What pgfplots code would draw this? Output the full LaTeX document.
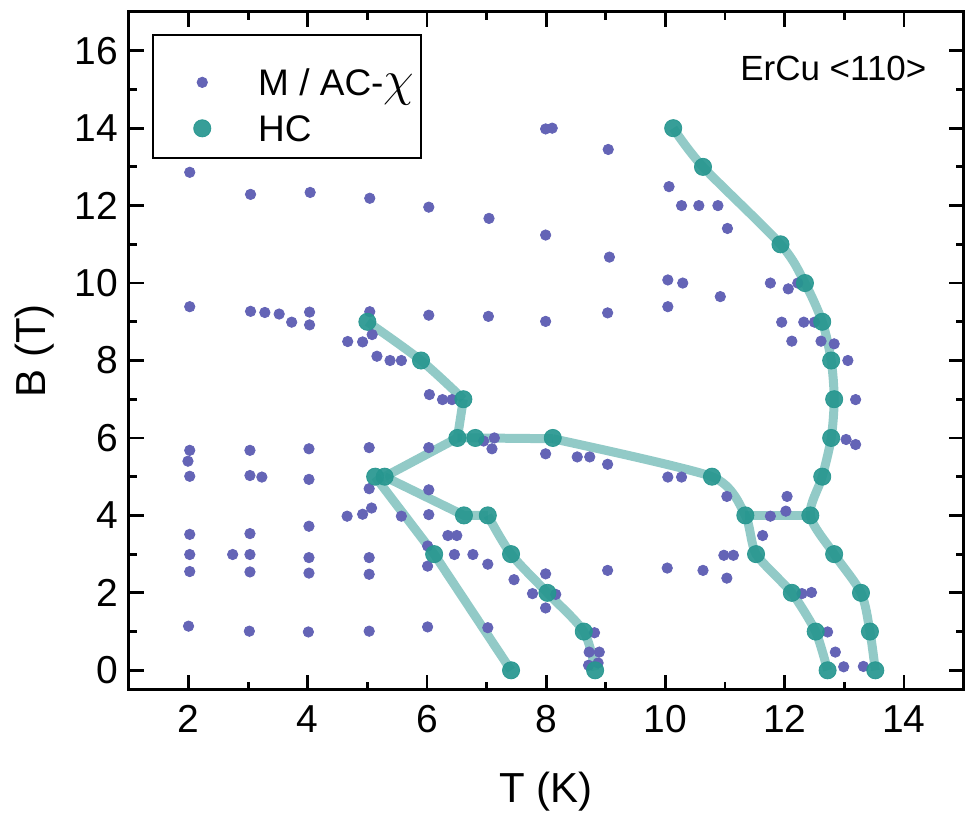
\documentclass[border=0pt]{standalone}
\usepackage{fontspec}
\setmainfont{Liberation Sans}
\usepackage{pgfplots}
\pgfplotsset{compat=1.18}
\definecolor{dotc}{RGB}{100,100,182}
\definecolor{hcc}{RGB}{38,150,143}
\begin{document}
\begin{tikzpicture}
\begin{axis}[
 scale only axis, width=417.5pt, height=339pt,
 xmin=1, xmax=15, ymin=-0.5, ymax=17,
 xtick={2,4,...,14}, ytick={0,2,...,16},
 minor x tick num=1, minor y tick num=1,
 tick align=inside,
 major tick length=7.5pt, minor tick length=4pt,
 every tick/.style={black, line width=1.4pt},
 axis line style={line width=1.5pt},
 /pgf/number format/assume math mode=true,
 ticklabel style={font=\fontsize{19.5}{20}\selectfont},
 xticklabel style={yshift=-4.5pt},
 yticklabel style={xshift=-2pt},
 xlabel={T (K)}, ylabel={B (T)},
 label style={font=\fontsize{21}{22}\selectfont},
 xlabel style={at={(axis description cs:0.5,0)}, anchor=center, yshift=-51pt},
 ylabel style={at={(axis description cs:-0.1126,0.5)}, anchor=center},
 legend style={draw=none, fill=none, at={(axis description cs:0.0287,0.9171)}, anchor=north west,
   inner xsep=0pt, inner ysep=0pt, row sep=5.5pt, column sep=4.5pt,
   font=\fontsize{18.5}{20}\selectfont,
   nodes={inner sep=0pt, text height=13.5pt, text depth=4pt}},
 legend cell align=left,
 legend image code/.code={\path[draw=none, fill=none] (0pt,-8pt) rectangle (48pt,8pt); \draw[#1] plot[only marks] coordinates {(24.5pt,1.85pt)};},
]
\addplot[only marks, mark=*, mark size=2.6pt, color=dotc] coordinates {
(2.02,12.86)(2.02,9.39)(2.02,5.68)(1.99,5.40)(2.02,5.01)(2.02,3.51)(2.02,2.99)(2.02,2.55)(2.0,1.14)
(2.74,2.99)
(3.04,12.29)(3.04,9.27)(3.03,5.68)(3.03,5.03)(3.03,3.53)(3.03,2.99)(3.03,2.54)(3.02,1.01)
(3.23,4.99)(3.28,9.24)(3.52,9.20)(3.73,8.99)
(4.04,12.34)(4.03,9.25)(4.03,8.92)(4.02,5.72)(4.02,4.93)(4.02,3.72)(4.02,2.91)(4.02,2.51)(4.01,0.99)
(4.67,8.49)(4.92,8.48)(4.66,3.98)(4.92,4.03)
(5.04,12.19)(5.04,9.26)(5.08,8.67)(5.16,8.11)(5.38,8.0)(5.57,8.0)(5.03,5.75)(5.03,4.69)(5.07,4.19)(5.57,3.98)(5.03,2.91)(5.03,2.48)(5.03,1.01)
(6.03,11.96)(6.03,9.17)(6.04,7.12)(6.26,6.99)(6.42,6.99)(6.03,5.75)(6.03,4.66)(6.03,4.02)(6.01,3.21)(6.01,2.69)(6.01,1.12)(6.35,3.48)(6.5,3.48)(6.46,2.99)(6.77,2.99)
(7.04,11.67)(7.03,9.14)(6.95,5.92)(7.13,6.0)(7.09,5.72)(7.02,2.74)(7.46,2.34)(7.77,1.98)(7.02,1.10)
(7.99,13.98)(8.1,14.0)(7.99,11.24)(7.99,9.01)(7.99,5.59)(8.52,5.51)(8.73,5.51)(9.03,5.32)(7.99,2.49)(8.16,1.96)(7.99,1.61)(8.81,0.97)(8.72,0.47)(8.89,0.47)(8.71,0.13)(8.87,0.19)
(9.04,13.45)(9.06,10.67)(9.03,9.23)(9.03,2.58)
(10.06,12.49)(10.27,12.0)(10.56,12.0)(10.88,12.0)(11.04,11.41)(10.04,10.08)(10.29,10.0)(10.92,9.65)(10.04,9.39)(10.04,4.99)(10.27,4.99)(11.03,4.49)(10.63,2.58)(10.03,2.64)(10.98,2.97)(11.14,2.97)(11.03,2.38)
(11.76,10.0)(12.06,9.85)(12.22,10.0)(11.95,8.99)(12.32,8.99)(12.5,8.99)(12.12,8.5)(12.61,8.5)(12.83,8.43)(13.06,8.0)(13.19,6.99)(13.03,5.96)(13.19,5.83)(11.76,3.98)(12.02,4.11)(12.04,4.49)(11.63,3.48)(12.29,1.98)(12.45,2.01)(12.72,0.99)(12.85,0.47)(12.99,0.09)(13.32,0.10)
};
\addlegendentry{M / AC-{\fontsize{25}{25}\selectfont$\chi$}}
% HC lines
\addplot[forget plot, no marks, smooth, tension=0.5, line width=4.5pt, color=hcc, opacity=0.5] coordinates {(5.0,9.0)(5.9,8.0)(6.61,7.0)};
\addplot[forget plot, no marks, line width=4.5pt, color=hcc, opacity=0.5] coordinates {(6.61,7.0)(6.51,6.0)(5.29,5.0)};
\addplot[forget plot, no marks, line width=4.5pt, color=hcc, opacity=0.5] coordinates {(6.51,6.0)(6.81,6.0)(8.11,5.98)};
\addplot[forget plot, no marks, smooth, tension=0.4, line width=4.5pt, color=hcc, opacity=0.5] coordinates {(8.11,5.98)(10.78,5.0)(11.34,4.0)(11.52,3.0)(12.12,2.0)(12.52,1.0)(12.72,0)};
\addplot[forget plot, no marks, smooth, tension=0.5, line width=4.5pt, color=hcc, opacity=0.5] coordinates {(10.13,14)(10.63,13)(11.93,11)(12.34,10)(12.63,9)(12.78,8)(12.83,7)(12.78,6)(12.63,5)(12.43,4)(12.83,3)(13.28,2)(13.43,1)(13.52,0)};
\addplot[forget plot, no marks, line width=4.5pt, color=hcc, opacity=0.5] coordinates {(11.34,4.0)(12.43,4.0)};
\addplot[forget plot, no marks, line width=4.5pt, color=hcc, opacity=0.5] coordinates {(5.29,5.0)(6.62,4.0)(7.02,4.0)};
\addplot[forget plot, no marks, smooth, tension=0.5, line width=4.5pt, color=hcc, opacity=0.5] coordinates {(7.02,4.0)(7.41,3.0)(8.02,2.0)(8.63,1.0)(8.82,0)};
\addplot[forget plot, no marks, line width=4.5pt, color=hcc, opacity=0.5] coordinates {(5.13,5.0)(6.12,3.0)(7.41,0)};
% HC points
\addplot[only marks, mark=*, mark size=4.3pt, color=hcc, opacity=0.92] coordinates {
(5.0,9.0)(5.9,8.0)(6.61,7.0)(6.51,6.0)(6.81,6.0)(8.11,6.0)(5.13,5.0)(5.29,5.0)(6.62,4.0)(7.02,4.0)(6.12,3.0)(7.41,3.0)(8.02,2.0)(8.63,1.0)(8.82,0)(7.41,0)
(10.13,14)(10.63,13)(11.93,11)(12.34,10)(12.63,9)(12.78,8)(12.83,7)(12.78,6)(12.63,5)(12.43,4)(12.83,3)(13.28,2)(13.43,1)(13.52,0)
(10.78,5)(11.34,4)(11.52,3)(12.12,2)(12.52,1)(12.72,0)
};
\addlegendentry{HC}
\draw[line width=0.9pt] (axis description cs:0.0287,0.9661) rectangle (axis description cs:0.3497,0.7847);
\node[font=\fontsize{17.5}{18}\selectfont, anchor=center] at (axis description cs:0.844,0.917) {ErCu <110>};
\end{axis}
\path ([shift={(-64.5pt,-65pt)}]current axis.south west) rectangle ([shift={(0.5pt,6pt)}]current axis.north east);
\end{tikzpicture}
\end{document}
